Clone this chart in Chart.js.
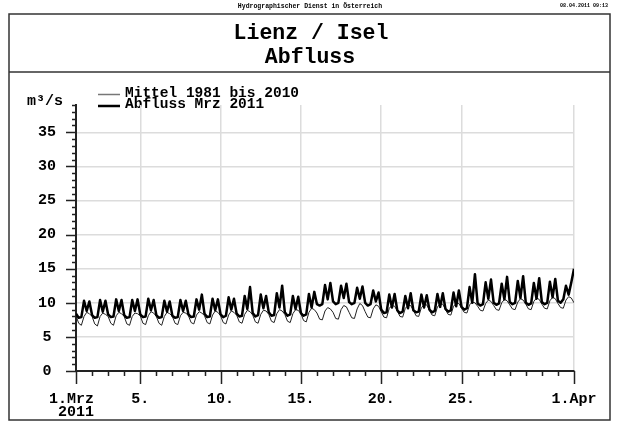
<!DOCTYPE html>
<html>
<head>
<meta charset="utf-8">
<script src="https://cdn.jsdelivr.net/npm/chart.js@4/dist/chart.umd.min.js"></script>
<style>
  body { margin: 0; background: #fff; }
  #wrap { width: 618px; height: 426px; }
</style>
</head>
<body>
<div id="wrap"><canvas id="chart" width="618" height="426"></canvas></div>
<script>
// values every 4 hours (0h, 4h, 8h, 12h, 16h, 20h), one row per day, last value = 1.Apr 0h
var abflussMrz2011 = [
  8.4, 7.8, 7.9, 10.3, 8.8, 10.2,
  8.2, 7.8, 7.9, 10.4, 8.7, 10.3,
  8.3, 7.9, 8.0, 10.5, 8.8, 10.4,
  8.2, 7.8, 7.9, 10.4, 8.8, 10.5,
  8.3, 7.9, 8.0, 10.6, 8.9, 10.4,
  8.2, 7.8, 7.9, 10.3, 8.7, 10.2,
  8.1, 7.8, 7.9, 10.4, 8.8, 10.3,
  8.3, 7.9, 8.0, 10.5, 9.0, 11.2,
  8.4, 7.9, 8.0, 10.6, 8.9, 10.5,
  8.3, 7.9, 8.1, 10.8, 9.0, 10.6,
  8.4, 8.0, 8.1, 11.0, 9.1, 12.3,
  8.5, 8.0, 8.2, 11.2, 9.2, 11.0,
  8.6, 8.1, 8.2, 11.4, 9.3, 12.5,
  8.6, 8.1, 8.3, 11.0, 9.1, 10.9,
  8.5, 8.1, 8.3, 11.3, 9.3, 11.6,
  9.8, 9.6, 9.8, 12.6, 10.5, 12.9,
  10.2, 9.8, 10.0, 12.5, 10.7, 12.8,
  10.1, 9.8, 10.0, 12.2, 10.6, 12.4,
  10.0, 9.6, 9.8, 11.8, 10.2, 11.5,
  9.0, 8.5, 8.6, 11.2, 9.3, 11.3,
  8.9, 8.5, 8.7, 11.0, 9.2, 11.4,
  8.9, 8.6, 8.7, 11.2, 9.3, 11.1,
  9.0, 8.6, 8.8, 11.3, 9.4, 11.4,
  9.1, 8.7, 8.9, 11.5, 9.5, 11.8,
  9.4, 9.0, 9.2, 12.3, 10.0, 14.2,
  9.9, 9.6, 9.8, 13.0, 10.6, 13.4,
  10.0, 9.7, 9.9, 12.8, 10.5, 13.8,
  10.1, 9.8, 10.0, 13.2, 10.7, 13.9,
  10.0, 9.7, 9.9, 12.9, 10.6, 13.6,
  10.1, 9.8, 10.0, 13.1, 10.8, 13.5,
  10.3, 10.0, 10.5, 12.5, 11.2, 13.0,
  15.0
];
var mittel19812010 = [
  8.1, 7.0, 6.7, 8.0, 8.6, 8.4,
  8.0, 6.9, 6.6, 8.0, 8.5, 8.3,
  8.0, 7.0, 6.7, 8.1, 8.6, 8.4,
  8.0, 6.9, 6.7, 8.0, 8.5, 8.4,
  8.1, 7.0, 6.8, 8.1, 8.7, 8.5,
  8.0, 7.0, 6.7, 8.0, 8.6, 8.4,
  8.0, 7.0, 6.8, 8.1, 8.6, 8.5,
  8.1, 7.1, 6.9, 8.2, 8.7, 8.5,
  8.1, 7.1, 6.9, 8.2, 8.8, 8.6,
  8.1, 7.1, 6.9, 8.2, 8.8, 8.6,
  8.2, 7.2, 7.0, 8.3, 8.9, 8.7,
  8.2, 7.2, 7.0, 8.3, 8.9, 8.8,
  8.3, 7.3, 7.1, 8.4, 9.0, 8.8,
  8.3, 7.3, 7.1, 8.4, 9.0, 8.9,
  8.4, 7.4, 7.2, 8.6, 9.2, 9.0,
  8.5, 7.6, 7.5, 8.8, 9.3, 9.1,
  8.6, 7.7, 7.6, 9.0, 9.6, 9.4,
  8.6, 7.8, 7.7, 9.1, 9.9, 9.6,
  8.7, 7.9, 7.8, 9.1, 9.7, 9.5,
  8.7, 7.9, 7.8, 9.2, 9.6, 9.5,
  8.8, 8.0, 7.9, 9.2, 9.6, 9.6,
  8.9, 8.1, 8.0, 9.3, 9.7, 9.7,
  8.9, 8.2, 8.1, 9.4, 9.8, 9.8,
  9.0, 8.3, 8.2, 9.5, 9.9, 9.9,
  9.2, 8.6, 8.5, 9.7, 10.1, 10.0,
  9.5, 8.9, 8.8, 9.9, 10.4, 10.2,
  9.6, 9.0, 8.9, 10.0, 10.5, 10.3,
  9.7, 9.1, 9.0, 10.1, 10.6, 10.4,
  9.8, 9.1, 9.0, 10.2, 10.7, 10.5,
  9.8, 9.2, 9.1, 10.3, 10.8, 10.6,
  9.9, 9.3, 9.2, 10.4, 10.9, 10.7,
  10.0
];
var stepsPerDay = 6;

// x axis: day offset from 1.Mrz 0h
var xMajor = [0, 4, 9, 14, 19, 24, 31];
var xLabels = [['1.Mrz ', ' 2011 '], '5.', '10.', '15.', '20.', '25.', '1.Apr'];
var yMax = 39;
var yMajor = [0, 5, 10, 15, 20, 25, 30, 35];

var legendNames = ['Mittel 1981 bis 2010', 'Abfluss Mrz 2011'];
var unitLabel = 'm³/s';
var titleLines = ['Lienz / Isel', 'Abfluss'];
var headerText = 'Hydrographischer Dienst in Österreich';
var stampText = '08.04.2011 09:13';

var FONT = "'Liberation Mono', 'Courier New', monospace";

function toPoints(arr) {
    var pts = [];
    for (var i = 0; i < arr.length; i++) {
        pts.push({x: i / stepsPerDay, y: arr[i]});
    }
    return pts;
}

var intRange = function (a, b) {
    var r = [];
    for (var i = a; i <= b; i++) r.push(i);
    return r;
};

var decoPlugin = {
    id: 'deco',
    beforeDraw: function (chart) {
        var ctx = chart.ctx;
        ctx.save();
        ctx.fillStyle = '#fff';
        ctx.fillRect(0, 0, chart.width, chart.height);

        // header line
        ctx.fillStyle = '#000';
        ctx.textBaseline = 'middle';
        ctx.textAlign = 'center';
        ctx.font = 'bold 6.5px ' + FONT;
        ctx.fillText(headerText, 310, 6);
        ctx.textAlign = 'right';
        ctx.font = 'bold 5px ' + FONT;
        ctx.fillText(stampText, 608, 6);

        // frame
        ctx.strokeStyle = '#333';
        ctx.lineWidth = 1.5;
        ctx.strokeRect(9, 14, 601, 406);
        ctx.beginPath();
        ctx.moveTo(9, 72);
        ctx.lineTo(610, 72);
        ctx.stroke();

        // title
        ctx.textAlign = 'center';
        ctx.font = 'bold 21.5px ' + FONT;
        ctx.fillText(titleLines[0], 311, 34);
        ctx.fillText(titleLines[1], 310, 58);

        // unit
        ctx.textAlign = 'left';
        ctx.font = 'bold 15px ' + FONT;
        ctx.fillText(unitLabel, 27, 101);

        // legend
        ctx.font = 'bold 14.5px ' + FONT;
        ctx.strokeStyle = '#777';
        ctx.lineWidth = 1.5;
        ctx.beginPath();
        ctx.moveTo(98, 94.5);
        ctx.lineTo(120, 94.5);
        ctx.stroke();
        ctx.fillText(legendNames[0], 125, 93);
        ctx.strokeStyle = '#000';
        ctx.lineWidth = 2.5;
        ctx.beginPath();
        ctx.moveTo(98, 106);
        ctx.lineTo(120, 106);
        ctx.stroke();
        ctx.fillText(legendNames[1], 125, 104);
        ctx.restore();
    },
    afterDraw: function (chart) {
        // tick marks
        var ctx = chart.ctx;
        var xs = chart.scales.x, ys = chart.scales.y;
        var area = chart.chartArea;
        ctx.save();
        ctx.strokeStyle = '#222';
        ctx.lineWidth = 1.5;
        ctx.beginPath();
        intRange(0, yMax).forEach(function (v) {
            var py = Math.round(ys.getPixelForValue(v)) + 0.5;
            var len = yMajor.indexOf(v) >= 0 ? 10 : 4;
            ctx.moveTo(area.left - len, py);
            ctx.lineTo(area.left, py);
        });
        intRange(0, 31).forEach(function (d) {
            var px = Math.round(xs.getPixelForValue(d)) + 0.5;
            var len = xMajor.indexOf(d) >= 0 ? 13 : 5;
            ctx.moveTo(px, area.bottom);
            ctx.lineTo(px, area.bottom + len);
        });
        ctx.stroke();
        ctx.restore();
    }
};

var ctx = document.getElementById('chart');
var myChart = new Chart(ctx, {
    type: 'line',
    data: {
        datasets: [{
            label: legendNames[1],
            data: toPoints(abflussMrz2011),
            borderColor: '#000',
            borderWidth: 2.5,
            pointRadius: 0,
            tension: 0,
            borderJoinStyle: 'round',
            order: 0
        }, {
            label: legendNames[0],
            data: toPoints(mittel19812010),
            borderColor: '#222',
            borderWidth: 1,
            pointRadius: 0,
            tension: 0,
            order: 1
        }]
    },
    options: {
        responsive: false,
        animation: false,
        events: [],
        layout: { padding: { left: 8, top: 105, right: 44, bottom: 5 } },
        plugins: {
            legend: { display: false },
            title: { display: false },
            tooltip: { enabled: false }
        },
        scales: {
            x: {
                type: 'linear',
                min: 0,
                max: 31,
                afterBuildTicks: function (s) {
                    s.ticks = intRange(0, 31).map(function (v) { return {value: v}; });
                },
                afterFit: function (s) { s.height = 50; },
                grid: {
                    drawTicks: false,
                    lineWidth: 1.5,
                    color: function (c) {
                        return c.tick && c.tick.value > 0 && xMajor.indexOf(c.tick.value) >= 0 ? '#dcdcdc' : 'rgba(0,0,0,0)';
                    }
                },
                border: { color: '#222', width: 2 },
                ticks: {
                    autoSkip: false,
                    maxRotation: 0,
                    padding: 21,
                    color: '#000',
                    font: { family: FONT, size: 15, weight: 'bold', lineHeight: 0.9 },
                    callback: function (v) {
                        var i = xMajor.indexOf(v);
                        return i >= 0 ? xLabels[i] : '';
                    }
                }
            },
            y: {
                min: 0,
                max: yMax,
                afterBuildTicks: function (s) {
                    s.ticks = intRange(0, yMax).map(function (v) { return {value: v}; });
                },
                afterFit: function (s) { s.width = 68; },
                grid: {
                    drawTicks: false,
                    lineWidth: 1.5,
                    color: function (c) {
                        return c.tick && c.tick.value > 0 && yMajor.indexOf(c.tick.value) >= 0 ? '#dcdcdc' : 'rgba(0,0,0,0)';
                    }
                },
                border: { color: '#222', width: 2 },
                ticks: {
                    autoSkip: false,
                    crossAlign: 'center',
                    padding: 20,
                    color: '#000',
                    font: { family: FONT, size: 15, weight: 'bold' },
                    callback: function (v) {
                        return yMajor.indexOf(v) >= 0 ? String(v) : '';
                    }
                }
            }
        }
    },
    plugins: [decoPlugin]
});
</script>
</body>
</html>
